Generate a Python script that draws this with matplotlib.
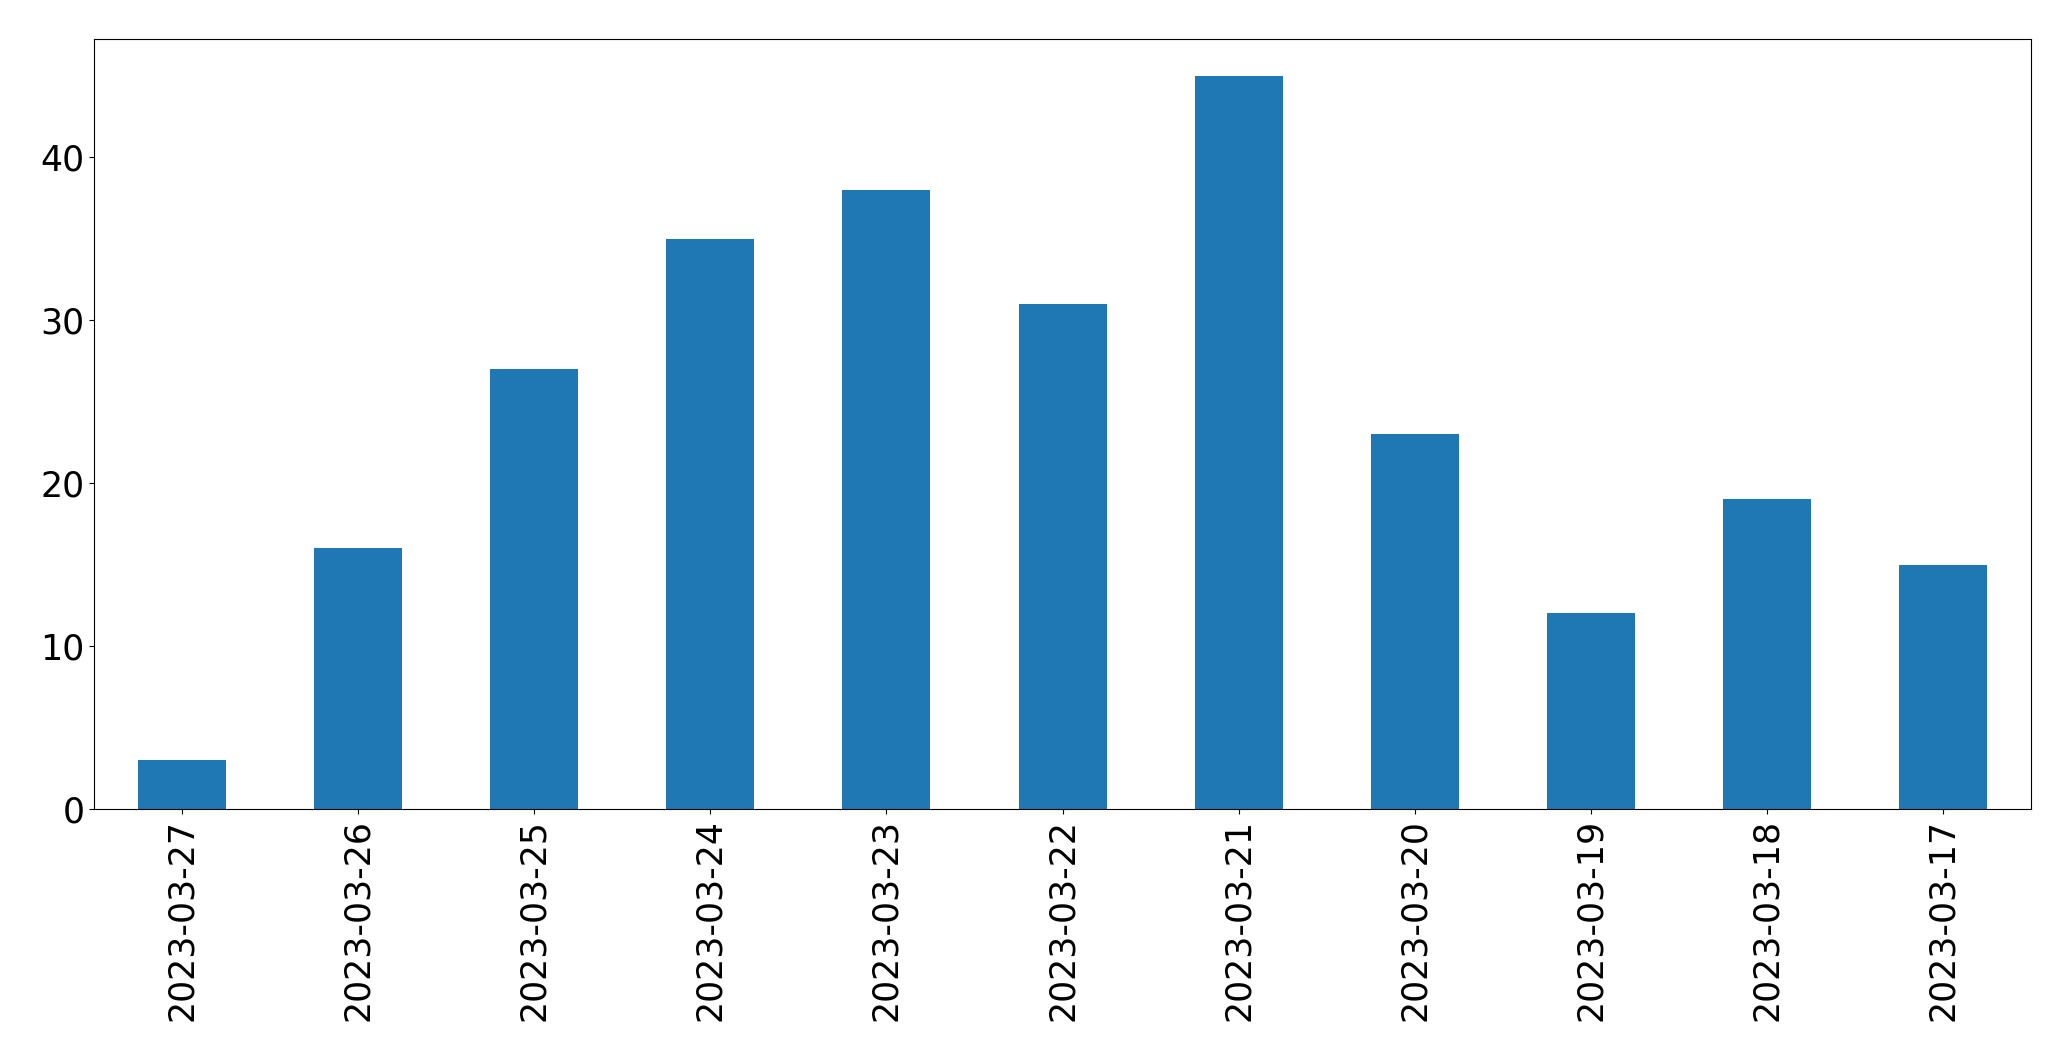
import matplotlib
matplotlib.use("Agg")
import matplotlib.pyplot as plt
import numpy as np

# daily counts, newest first as in the source chart
dates = ["2023-03-27", "2023-03-26", "2023-03-25", "2023-03-24", "2023-03-23",
         "2023-03-22", "2023-03-21", "2023-03-20", "2023-03-19", "2023-03-18",
         "2023-03-17"]
counts = [3, 16, 27, 35, 38, 31, 45, 23, 12, 19, 15]

fig = plt.figure(figsize=(20.71, 10.61), dpi=100)
ax = fig.add_axes([0.0454, 0.2375, 0.9353, 0.7257])

pos = np.arange(len(dates))
ax.bar(pos, counts, width=0.5, color="#1f77b4")

ax.set_xlim(-0.5, len(dates) - 0.5)
ax.set_ylim(0, max(counts) * 1.05)
ax.set_xticks(pos)
ax.set_xticklabels(dates, rotation=90)
ax.tick_params(axis="both", labelsize=25)

fig.savefig("out.png", dpi=100)
